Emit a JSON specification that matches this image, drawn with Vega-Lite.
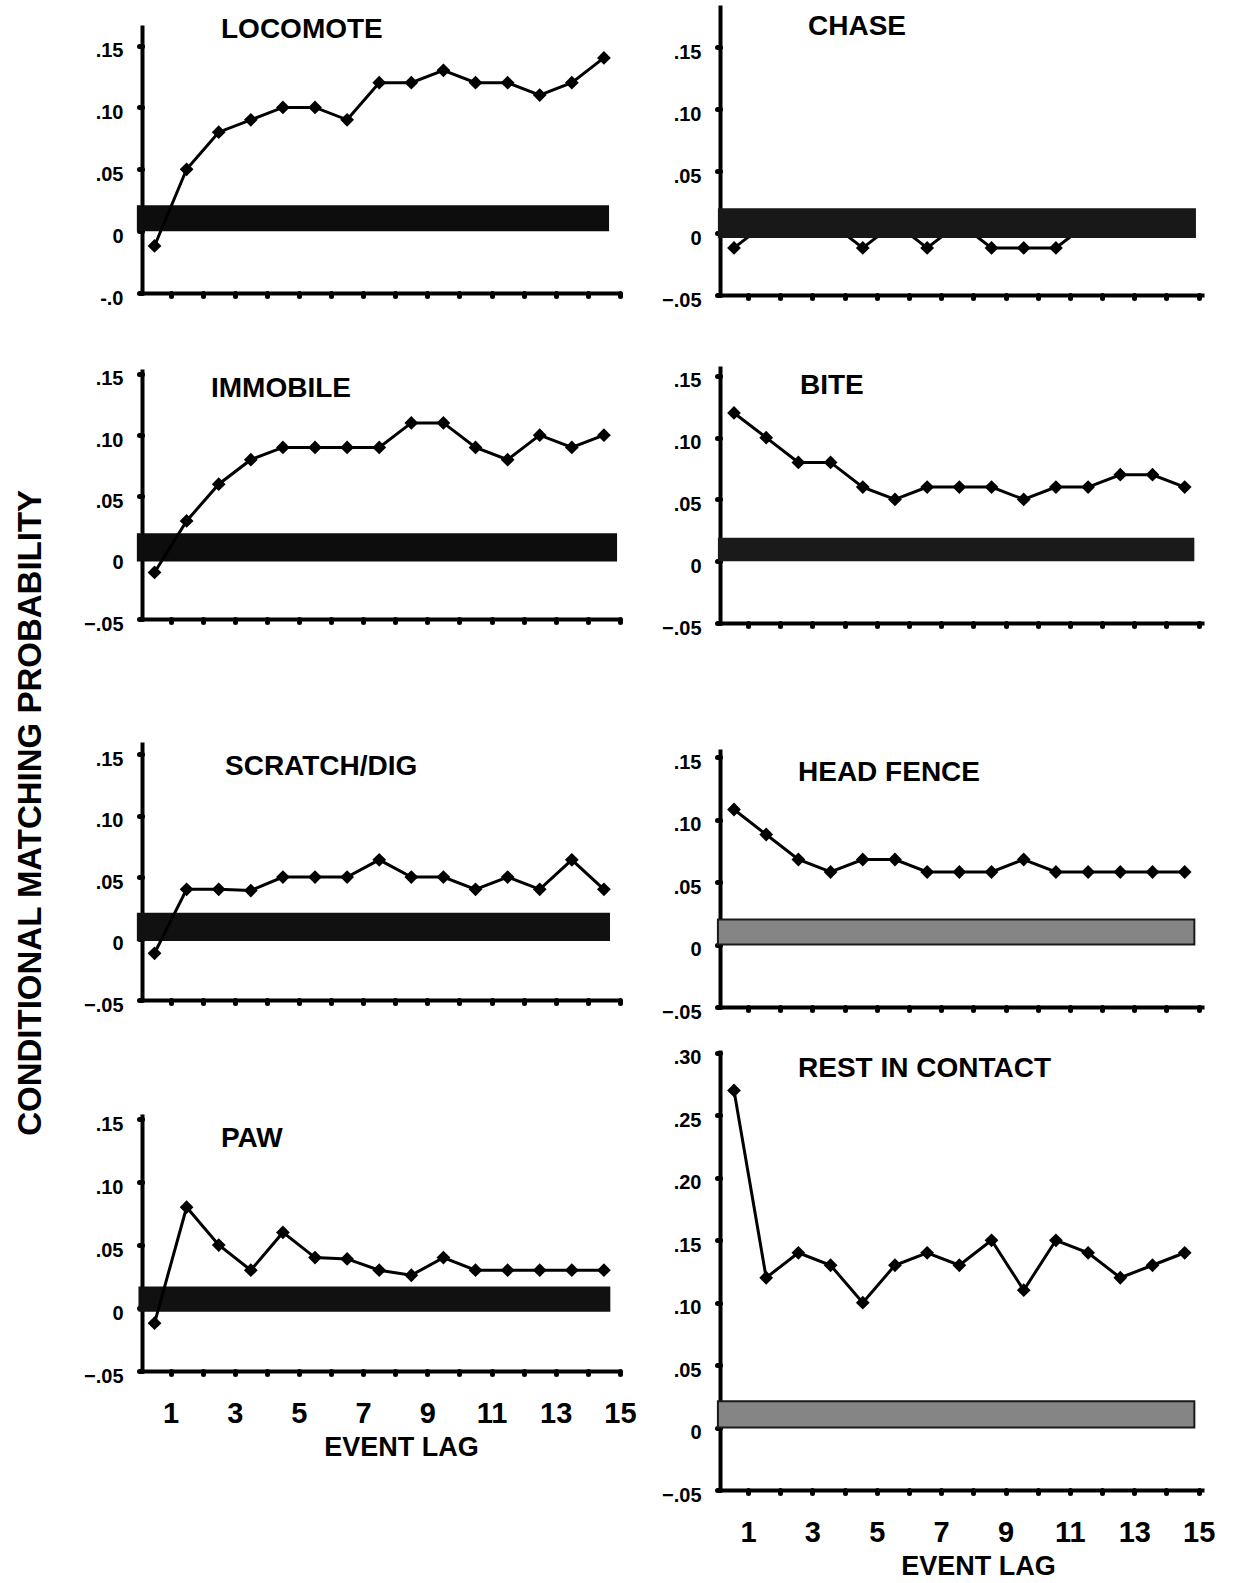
{
  "$schema": "https://vega.github.io/schema/vega-lite/v6.json",
  "background": "white",
  "padding": {"left": 14, "top": 2, "right": 5, "bottom": 5},
  "title": {"text": "CONDITIONAL MATCHING PROBABILITY", "orient": "left", "anchor": "middle", "offset": 3, "baseline": "bottom", "dx": -22, "fontSize": 33, "fontWeight": "bold", "font": "Liberation Sans, Arial, sans-serif", "color": "black"},
  "datasets": {
    "lags": [
      {"panel":"LOCOMOTE","lag":1,"p":-0.012},{"panel":"LOCOMOTE","lag":2,"p":0.05},{"panel":"LOCOMOTE","lag":3,"p":0.08},{"panel":"LOCOMOTE","lag":4,"p":0.09},{"panel":"LOCOMOTE","lag":5,"p":0.10},{"panel":"LOCOMOTE","lag":6,"p":0.10},{"panel":"LOCOMOTE","lag":7,"p":0.09},{"panel":"LOCOMOTE","lag":8,"p":0.12},{"panel":"LOCOMOTE","lag":9,"p":0.12},{"panel":"LOCOMOTE","lag":10,"p":0.13},{"panel":"LOCOMOTE","lag":11,"p":0.12},{"panel":"LOCOMOTE","lag":12,"p":0.12},{"panel":"LOCOMOTE","lag":13,"p":0.11},{"panel":"LOCOMOTE","lag":14,"p":0.12},{"panel":"LOCOMOTE","lag":15,"p":0.14},
      {"panel":"IMMOBILE","lag":1,"p":-0.012},{"panel":"IMMOBILE","lag":2,"p":0.03},{"panel":"IMMOBILE","lag":3,"p":0.06},{"panel":"IMMOBILE","lag":4,"p":0.08},{"panel":"IMMOBILE","lag":5,"p":0.09},{"panel":"IMMOBILE","lag":6,"p":0.09},{"panel":"IMMOBILE","lag":7,"p":0.09},{"panel":"IMMOBILE","lag":8,"p":0.09},{"panel":"IMMOBILE","lag":9,"p":0.11},{"panel":"IMMOBILE","lag":10,"p":0.11},{"panel":"IMMOBILE","lag":11,"p":0.09},{"panel":"IMMOBILE","lag":12,"p":0.08},{"panel":"IMMOBILE","lag":13,"p":0.10},{"panel":"IMMOBILE","lag":14,"p":0.09},{"panel":"IMMOBILE","lag":15,"p":0.10},
      {"panel":"SCRATCH/DIG","lag":1,"p":-0.012},{"panel":"SCRATCH/DIG","lag":2,"p":0.04},{"panel":"SCRATCH/DIG","lag":3,"p":0.04},{"panel":"SCRATCH/DIG","lag":4,"p":0.039},{"panel":"SCRATCH/DIG","lag":5,"p":0.05},{"panel":"SCRATCH/DIG","lag":6,"p":0.05},{"panel":"SCRATCH/DIG","lag":7,"p":0.05},{"panel":"SCRATCH/DIG","lag":8,"p":0.064},{"panel":"SCRATCH/DIG","lag":9,"p":0.05},{"panel":"SCRATCH/DIG","lag":10,"p":0.05},{"panel":"SCRATCH/DIG","lag":11,"p":0.04},{"panel":"SCRATCH/DIG","lag":12,"p":0.05},{"panel":"SCRATCH/DIG","lag":13,"p":0.04},{"panel":"SCRATCH/DIG","lag":14,"p":0.064},{"panel":"SCRATCH/DIG","lag":15,"p":0.04},
      {"panel":"PAW","lag":1,"p":-0.012},{"panel":"PAW","lag":2,"p":0.08},{"panel":"PAW","lag":3,"p":0.05},{"panel":"PAW","lag":4,"p":0.03},{"panel":"PAW","lag":5,"p":0.06},{"panel":"PAW","lag":6,"p":0.04},{"panel":"PAW","lag":7,"p":0.039},{"panel":"PAW","lag":8,"p":0.03},{"panel":"PAW","lag":9,"p":0.026},{"panel":"PAW","lag":10,"p":0.04},{"panel":"PAW","lag":11,"p":0.03},{"panel":"PAW","lag":12,"p":0.03},{"panel":"PAW","lag":13,"p":0.03},{"panel":"PAW","lag":14,"p":0.03},{"panel":"PAW","lag":15,"p":0.03},
      {"panel":"CHASE","lag":1,"p":-0.012},{"panel":"CHASE","lag":2,"p":0.008},{"panel":"CHASE","lag":3,"p":0.008},{"panel":"CHASE","lag":4,"p":0.008},{"panel":"CHASE","lag":5,"p":-0.012},{"panel":"CHASE","lag":6,"p":0.008},{"panel":"CHASE","lag":7,"p":-0.012},{"panel":"CHASE","lag":8,"p":0.008},{"panel":"CHASE","lag":9,"p":-0.012},{"panel":"CHASE","lag":10,"p":-0.012},{"panel":"CHASE","lag":11,"p":-0.012},{"panel":"CHASE","lag":12,"p":0.008},{"panel":"CHASE","lag":13,"p":0.008},{"panel":"CHASE","lag":14,"p":0.008},{"panel":"CHASE","lag":15,"p":0.008},
      {"panel":"BITE","lag":1,"p":0.12},{"panel":"BITE","lag":2,"p":0.10},{"panel":"BITE","lag":3,"p":0.08},{"panel":"BITE","lag":4,"p":0.08},{"panel":"BITE","lag":5,"p":0.06},{"panel":"BITE","lag":6,"p":0.05},{"panel":"BITE","lag":7,"p":0.06},{"panel":"BITE","lag":8,"p":0.06},{"panel":"BITE","lag":9,"p":0.06},{"panel":"BITE","lag":10,"p":0.05},{"panel":"BITE","lag":11,"p":0.06},{"panel":"BITE","lag":12,"p":0.06},{"panel":"BITE","lag":13,"p":0.07},{"panel":"BITE","lag":14,"p":0.07},{"panel":"BITE","lag":15,"p":0.06},
      {"panel":"HEAD FENCE","lag":1,"p":0.108},{"panel":"HEAD FENCE","lag":2,"p":0.088},{"panel":"HEAD FENCE","lag":3,"p":0.068},{"panel":"HEAD FENCE","lag":4,"p":0.058},{"panel":"HEAD FENCE","lag":5,"p":0.068},{"panel":"HEAD FENCE","lag":6,"p":0.068},{"panel":"HEAD FENCE","lag":7,"p":0.058},{"panel":"HEAD FENCE","lag":8,"p":0.058},{"panel":"HEAD FENCE","lag":9,"p":0.058},{"panel":"HEAD FENCE","lag":10,"p":0.068},{"panel":"HEAD FENCE","lag":11,"p":0.058},{"panel":"HEAD FENCE","lag":12,"p":0.058},{"panel":"HEAD FENCE","lag":13,"p":0.058},{"panel":"HEAD FENCE","lag":14,"p":0.058},{"panel":"HEAD FENCE","lag":15,"p":0.058},
      {"panel":"REST IN CONTACT","lag":1,"p":0.27},{"panel":"REST IN CONTACT","lag":2,"p":0.12},{"panel":"REST IN CONTACT","lag":3,"p":0.14},{"panel":"REST IN CONTACT","lag":4,"p":0.13},{"panel":"REST IN CONTACT","lag":5,"p":0.10},{"panel":"REST IN CONTACT","lag":6,"p":0.13},{"panel":"REST IN CONTACT","lag":7,"p":0.14},{"panel":"REST IN CONTACT","lag":8,"p":0.13},{"panel":"REST IN CONTACT","lag":9,"p":0.15},{"panel":"REST IN CONTACT","lag":10,"p":0.11},{"panel":"REST IN CONTACT","lag":11,"p":0.15},{"panel":"REST IN CONTACT","lag":12,"p":0.14},{"panel":"REST IN CONTACT","lag":13,"p":0.12},{"panel":"REST IN CONTACT","lag":14,"p":0.13},{"panel":"REST IN CONTACT","lag":15,"p":0.14}
    ],
    "bands": [
      {"panel":"LOCOMOTE","low":0.0,"high":0.021,"start":0.45,"end":15.16},
      {"panel":"IMMOBILE","low":-0.003,"high":0.02,"start":0.45,"end":15.41},
      {"panel":"SCRATCH/DIG","low":-0.002,"high":0.021,"start":0.45,"end":15.19},
      {"panel":"PAW","low":-0.003,"high":0.017,"start":0.5,"end":15.2},
      {"panel":"CHASE","low":-0.004,"high":0.02,"start":0.5,"end":15.35},
      {"panel":"BITE","low":0.0,"high":0.019,"start":0.5,"end":15.3},
      {"panel":"HEAD FENCE","low":0.0,"high":0.02,"start":0.5,"end":15.3},
      {"panel":"REST IN CONTACT","low":0.0,"high":0.021,"start":0.5,"end":15.3}
    ]
  },
  "hconcat": [
    {
      "vconcat": [
        {"width": 477, "height": 1, "data": {"values": [{"a": 1}]}, "mark": {"type": "point", "opacity": 0}, "view": {"fill": "white", "stroke": null}},
        {
          "vconcat": [
            {
              "width": 477, "height": 268,
              "title": {"text": "LOCOMOTE", "anchor": "start", "frame": "group", "offset": 0, "baseline": "middle", "dx": 79, "dy": 33, "fontSize": 28},
              "data": {"name": "lags"}, "transform": [{"filter": "datum.panel === 'LOCOMOTE'"}],
              "encoding": {
                "x": {"field": "lag", "type": "quantitative", "scale": {"domain": [0.61, 15.47], "nice": false, "zero": false}, "axis": {"values": [1,2,3,4,5,6,7,8,9,10,11,12,13,14,15], "labels": false, "title": null, "tickOffset": 16}},
                "y": {"field": "p", "type": "quantitative", "scale": {"domain": [-0.05, 0.1666], "nice": false, "zero": false}, "axis": {"values": [-0.05, 0, 0.05, 0.1, 0.15], "title": null, "labelExpr": "datum.value < 0 ? '-.0' : (datum.value == 0 ? '0' : replace(format(datum.value, '.2f'), '0.', '.'))"}}
              },
              "layer": [
                {"data": {"name": "bands"}, "transform": [{"filter": "datum.panel === 'LOCOMOTE'"}],
                 "mark": {"type": "rect", "color": "#0d0d0d"},
                 "encoding": {
                   "x": {"field": "start", "type": "quantitative", "scale": {"domain": [0.61, 15.47], "nice": false, "zero": false}, "axis": {"values": [1,2,3,4,5,6,7,8,9,10,11,12,13,14,15], "labels": false, "title": null, "tickOffset": 16}},
                   "x2": {"field": "end"},
                   "y": {"field": "low", "type": "quantitative", "scale": {"domain": [-0.05, 0.1666], "nice": false, "zero": false}, "axis": {"values": [-0.05, 0, 0.05, 0.1, 0.15], "title": null, "labelExpr": "datum.value < 0 ? '-.0' : (datum.value == 0 ? '0' : replace(format(datum.value, '.2f'), '0.', '.'))"}},
                   "y2": {"field": "high"}}},
                {"mark": {"type": "line", "color": "black", "strokeWidth": 3}},
                {"mark": {"type": "point", "filled": true, "shape": "diamond", "size": 190, "color": "black", "opacity": 1}}
              ]
            },
            {
              "vconcat": [
                {
                  "width": 477, "height": 250,
                  "title": {"text": "IMMOBILE", "anchor": "start", "frame": "group", "offset": 0, "baseline": "middle", "dx": 69, "dy": 48, "fontSize": 28},
                  "data": {"name": "lags"}, "transform": [{"filter": "datum.panel === 'IMMOBILE'"}],
                  "encoding": {
                    "x": {"field": "lag", "type": "quantitative", "scale": {"domain": [0.61, 15.47], "nice": false, "zero": false}, "axis": {"values": [1,2,3,4,5,6,7,8,9,10,11,12,13,14,15], "labels": false, "title": null, "tickOffset": 16}},
                    "y": {"field": "p", "type": "quantitative", "scale": {"domain": [-0.05, 0.154], "nice": false, "zero": false}, "axis": {"values": [-0.05, 0, 0.05, 0.1, 0.15], "title": null}}
                  },
                  "layer": [
                    {"data": {"name": "bands"}, "transform": [{"filter": "datum.panel === 'IMMOBILE'"}],
                     "mark": {"type": "rect", "color": "#0d0d0d"},
                     "encoding": {
                       "x": {"field": "start", "type": "quantitative", "scale": {"domain": [0.61, 15.47], "nice": false, "zero": false}, "axis": {"values": [1,2,3,4,5,6,7,8,9,10,11,12,13,14,15], "labels": false, "title": null, "tickOffset": 16}},
                       "x2": {"field": "end"},
                       "y": {"field": "low", "type": "quantitative", "scale": {"domain": [-0.05, 0.154], "nice": false, "zero": false}, "axis": {"values": [-0.05, 0, 0.05, 0.1, 0.15], "title": null}},
                       "y2": {"field": "high"}}},
                    {"mark": {"type": "line", "color": "black", "strokeWidth": 3}},
                    {"mark": {"type": "point", "filled": true, "shape": "diamond", "size": 190, "color": "black", "opacity": 1}}
                  ]
                },
                {
                  "vconcat": [
                    {
                      "width": 477, "height": 258,
                      "title": {"text": "SCRATCH/DIG", "anchor": "start", "frame": "group", "offset": 0, "baseline": "middle", "dx": 83, "dy": 53, "fontSize": 28},
                      "data": {"name": "lags"}, "transform": [{"filter": "datum.panel === 'SCRATCH/DIG'"}],
                      "encoding": {
                        "x": {"field": "lag", "type": "quantitative", "scale": {"domain": [0.61, 15.47], "nice": false, "zero": false}, "axis": {"values": [1,2,3,4,5,6,7,8,9,10,11,12,13,14,15], "labels": false, "title": null, "tickOffset": 16}},
                        "y": {"field": "p", "type": "quantitative", "scale": {"domain": [-0.05, 0.1598], "nice": false, "zero": false}, "axis": {"values": [-0.05, 0, 0.05, 0.1, 0.15], "title": null}}
                      },
                      "layer": [
                        {"data": {"name": "bands"}, "transform": [{"filter": "datum.panel === 'SCRATCH/DIG'"}],
                         "mark": {"type": "rect", "color": "#111111"},
                         "encoding": {
                           "x": {"field": "start", "type": "quantitative", "scale": {"domain": [0.61, 15.47], "nice": false, "zero": false}, "axis": {"values": [1,2,3,4,5,6,7,8,9,10,11,12,13,14,15], "labels": false, "title": null, "tickOffset": 16}},
                           "x2": {"field": "end"},
                           "y": {"field": "low", "type": "quantitative", "scale": {"domain": [-0.05, 0.1598], "nice": false, "zero": false}, "axis": {"values": [-0.05, 0, 0.05, 0.1, 0.15], "title": null}},
                           "y2": {"field": "high"}}},
                        {"mark": {"type": "line", "color": "black", "strokeWidth": 3}},
                        {"mark": {"type": "point", "filled": true, "shape": "diamond", "size": 190, "color": "black", "opacity": 1}}
                      ]
                    },
                    {
                      "width": 477, "height": 257,
                      "title": {"text": "PAW", "anchor": "start", "frame": "group", "offset": 0, "baseline": "middle", "dx": 79, "dy": 53, "fontSize": 28},
                      "data": {"name": "lags"}, "transform": [{"filter": "datum.panel === 'PAW'"}],
                      "encoding": {
                        "x": {"field": "lag", "type": "quantitative", "scale": {"domain": [0.61, 15.47], "nice": false, "zero": false}, "axis": {"values": [1,2,3,4,5,6,7,8,9,10,11,12,13,14,15], "labelExpr": "datum.value % 2 === 1 ? datum.label : ''", "labelFontSize": 29, "labelPadding": 25, "title": "EVENT LAG", "titleFontSize": 27, "titlePadding": 6, "titleX": 259, "tickOffset": 16}},
                        "y": {"field": "p", "type": "quantitative", "scale": {"domain": [-0.05, 0.154], "nice": false, "zero": false}, "axis": {"values": [-0.05, 0, 0.05, 0.1, 0.15], "title": null}}
                      },
                      "layer": [
                        {"data": {"name": "bands"}, "transform": [{"filter": "datum.panel === 'PAW'"}],
                         "mark": {"type": "rect", "color": "#111111"},
                         "encoding": {
                           "x": {"field": "start", "type": "quantitative", "scale": {"domain": [0.61, 15.47], "nice": false, "zero": false}, "axis": {"values": [1,2,3,4,5,6,7,8,9,10,11,12,13,14,15], "labelExpr": "datum.value % 2 === 1 ? datum.label : ''", "labelFontSize": 29, "labelPadding": 25, "title": "EVENT LAG", "titleFontSize": 27, "titlePadding": 6, "titleX": 259, "tickOffset": 16}},
                           "x2": {"field": "end"},
                           "y": {"field": "low", "type": "quantitative", "scale": {"domain": [-0.05, 0.154], "nice": false, "zero": false}, "axis": {"values": [-0.05, 0, 0.05, 0.1, 0.15], "title": null}},
                           "y2": {"field": "high"}}},
                        {"mark": {"type": "line", "color": "black", "strokeWidth": 3}},
                        {"mark": {"type": "point", "filled": true, "shape": "diamond", "size": 190, "color": "black", "opacity": 1}}
                      ]
                    }
                  ],
                  "spacing": 114, "bounds": "flush"
                }
              ],
              "spacing": 123, "bounds": "flush"
            }
          ],
          "spacing": 76, "bounds": "flush"
        }
      ],
      "spacing": 19, "bounds": "flush"
    },
    {
      "vconcat": [
        {
          "width": 484, "height": 290,
          "title": {"text": "CHASE", "anchor": "start", "frame": "group", "offset": 0, "baseline": "middle", "dx": 88, "dy": 50, "fontSize": 28},
          "data": {"name": "lags"}, "transform": [{"filter": "datum.panel === 'CHASE'"}],
          "encoding": {
            "x": {"field": "lag", "type": "quantitative", "scale": {"domain": [0.565, 15.6], "nice": false, "zero": false}, "axis": {"values": [1,2,3,4,5,6,7,8,9,10,11,12,13,14,15], "labels": false, "title": null, "tickOffset": 14}},
            "y": {"field": "p", "type": "quantitative", "scale": {"domain": [-0.05, 0.184], "nice": false, "zero": false}, "axis": {"values": [-0.05, 0, 0.05, 0.1, 0.15], "title": null}}
          },
          "layer": [
            {"mark": {"type": "line", "color": "black", "strokeWidth": 3}},
            {"mark": {"type": "point", "filled": true, "shape": "diamond", "size": 190, "color": "black", "opacity": 1}},
            {"data": {"name": "bands"}, "transform": [{"filter": "datum.panel === 'CHASE'"}],
             "mark": {"type": "rect", "color": "#181818"},
             "encoding": {
               "x": {"field": "start", "type": "quantitative", "scale": {"domain": [0.565, 15.6], "nice": false, "zero": false}, "axis": {"values": [1,2,3,4,5,6,7,8,9,10,11,12,13,14,15], "labels": false, "title": null, "tickOffset": 14}},
               "x2": {"field": "end"},
               "y": {"field": "low", "type": "quantitative", "scale": {"domain": [-0.05, 0.184], "nice": false, "zero": false}, "axis": {"values": [-0.05, 0, 0.05, 0.1, 0.15], "title": null}},
               "y2": {"field": "high"}}}
          ]
        },
        {
          "vconcat": [
            {
              "width": 484, "height": 257,
              "title": {"text": "BITE", "anchor": "start", "frame": "group", "offset": 0, "baseline": "middle", "dx": 80, "dy": 48, "fontSize": 28},
              "data": {"name": "lags"}, "transform": [{"filter": "datum.panel === 'BITE'"}],
              "encoding": {
                "x": {"field": "lag", "type": "quantitative", "scale": {"domain": [0.565, 15.6], "nice": false, "zero": false}, "axis": {"values": [1,2,3,4,5,6,7,8,9,10,11,12,13,14,15], "labels": false, "title": null, "tickOffset": 14}},
                "y": {"field": "p", "type": "quantitative", "scale": {"domain": [-0.05, 0.158], "nice": false, "zero": false}, "axis": {"values": [-0.05, 0, 0.05, 0.1, 0.15], "title": null}}
              },
              "layer": [
                {"data": {"name": "bands"}, "transform": [{"filter": "datum.panel === 'BITE'"}],
                 "mark": {"type": "rect", "color": "#1a1a1a"},
                 "encoding": {
                   "x": {"field": "start", "type": "quantitative", "scale": {"domain": [0.565, 15.6], "nice": false, "zero": false}, "axis": {"values": [1,2,3,4,5,6,7,8,9,10,11,12,13,14,15], "labels": false, "title": null, "tickOffset": 14}},
                   "x2": {"field": "end"},
                   "y": {"field": "low", "type": "quantitative", "scale": {"domain": [-0.05, 0.158], "nice": false, "zero": false}, "axis": {"values": [-0.05, 0, 0.05, 0.1, 0.15], "title": null}},
                   "y2": {"field": "high"}}},
                {"mark": {"type": "line", "color": "black", "strokeWidth": 3}},
                {"mark": {"type": "point", "filled": true, "shape": "diamond", "size": 190, "color": "black", "opacity": 1}}
              ]
            },
            {
              "vconcat": [
                {
                  "width": 484, "height": 258,
                  "title": {"text": "HEAD FENCE", "anchor": "start", "frame": "group", "offset": 0, "baseline": "middle", "dx": 78, "dy": 52, "fontSize": 28},
                  "data": {"name": "lags"}, "transform": [{"filter": "datum.panel === 'HEAD FENCE'"}],
                  "encoding": {
                    "x": {"field": "lag", "type": "quantitative", "scale": {"domain": [0.565, 15.6], "nice": false, "zero": false}, "axis": {"values": [1,2,3,4,5,6,7,8,9,10,11,12,13,14,15], "labels": false, "title": null, "tickOffset": 14}},
                    "y": {"field": "p", "type": "quantitative", "scale": {"domain": [-0.05, 0.1564], "nice": false, "zero": false}, "axis": {"values": [-0.05, 0, 0.05, 0.1, 0.15], "title": null}}
                  },
                  "layer": [
                    {"data": {"name": "bands"}, "transform": [{"filter": "datum.panel === 'HEAD FENCE'"}],
                     "mark": {"type": "rect", "color": "#858585", "stroke": "#1a1a1a", "strokeWidth": 2},
                     "encoding": {
                       "x": {"field": "start", "type": "quantitative", "scale": {"domain": [0.565, 15.6], "nice": false, "zero": false}, "axis": {"values": [1,2,3,4,5,6,7,8,9,10,11,12,13,14,15], "labels": false, "title": null, "tickOffset": 14}},
                       "x2": {"field": "end"},
                       "y": {"field": "low", "type": "quantitative", "scale": {"domain": [-0.05, 0.1564], "nice": false, "zero": false}, "axis": {"values": [-0.05, 0, 0.05, 0.1, 0.15], "title": null}},
                       "y2": {"field": "high"}}},
                    {"mark": {"type": "line", "color": "black", "strokeWidth": 3}},
                    {"mark": {"type": "point", "filled": true, "shape": "diamond", "size": 190, "color": "black", "opacity": 1}}
                  ]
                },
                {
                  "width": 484, "height": 440,
                  "title": {"text": "REST IN CONTACT", "anchor": "start", "frame": "group", "offset": 0, "baseline": "middle", "dx": 78, "dy": 49, "fontSize": 28},
                  "data": {"name": "lags"}, "transform": [{"filter": "datum.panel === 'REST IN CONTACT'"}],
                  "encoding": {
                    "x": {"field": "lag", "type": "quantitative", "scale": {"domain": [0.565, 15.6], "nice": false, "zero": false}, "axis": {"values": [1,2,3,4,5,6,7,8,9,10,11,12,13,14,15], "labelExpr": "datum.value % 2 === 1 ? datum.label : ''", "labelFontSize": 29, "labelPadding": 25, "title": "EVENT LAG", "titleFontSize": 27, "titlePadding": 6, "titleX": 258, "tickOffset": 14}},
                    "y": {"field": "p", "type": "quantitative", "scale": {"domain": [-0.05, 0.3024], "nice": false, "zero": false}, "axis": {"values": [-0.05, 0, 0.05, 0.1, 0.15, 0.2, 0.25, 0.3], "title": null}}
                  },
                  "layer": [
                    {"data": {"name": "bands"}, "transform": [{"filter": "datum.panel === 'REST IN CONTACT'"}],
                     "mark": {"type": "rect", "color": "#858585", "stroke": "#1a1a1a", "strokeWidth": 2},
                     "encoding": {
                       "x": {"field": "start", "type": "quantitative", "scale": {"domain": [0.565, 15.6], "nice": false, "zero": false}, "axis": {"values": [1,2,3,4,5,6,7,8,9,10,11,12,13,14,15], "labelExpr": "datum.value % 2 === 1 ? datum.label : ''", "labelFontSize": 29, "labelPadding": 25, "title": "EVENT LAG", "titleFontSize": 27, "titlePadding": 6, "titleX": 258, "tickOffset": 14}},
                       "x2": {"field": "end"},
                       "y": {"field": "low", "type": "quantitative", "scale": {"domain": [-0.05, 0.3024], "nice": false, "zero": false}, "axis": {"values": [-0.05, 0, 0.05, 0.1, 0.15, 0.2, 0.25, 0.3], "title": null}},
                       "y2": {"field": "high"}}},
                    {"mark": {"type": "line", "color": "black", "strokeWidth": 3}},
                    {"mark": {"type": "point", "filled": true, "shape": "diamond", "size": 190, "color": "black", "opacity": 1}}
                  ]
                }
              ],
              "spacing": 43, "bounds": "flush"
            }
          ],
          "spacing": 126, "bounds": "flush"
        }
      ],
      "spacing": 71, "bounds": "flush"
    }
  ],
  "spacing": 24,
  "config": {
    "view": {"stroke": null},
    "axis": {
      "grid": false,
      "domainColor": "black", "domainWidth": 4,
      "tickColor": "black", "tickWidth": 5, "tickSize": 3, "tickCap": "round",
      "labelColor": "black", "labelFont": "Liberation Sans, Arial, sans-serif", "labelFontWeight": "bold", "labelFontSize": 20,
      "labelFlush": false, "labelOverlap": false, "labelBound": false,
      "titleColor": "black", "titleFont": "Liberation Sans, Arial, sans-serif", "titleFontWeight": "bold"
    },
    "axisY": {"labelPadding": 16, "labelOffset": 5, "labelExpr": "datum.value == 0 ? '0' : replace(format(datum.value, '.2f'), '0.', '.')"},
    "title": {"font": "Liberation Sans, Arial, sans-serif", "fontWeight": "bold", "color": "black"}
  }
}
